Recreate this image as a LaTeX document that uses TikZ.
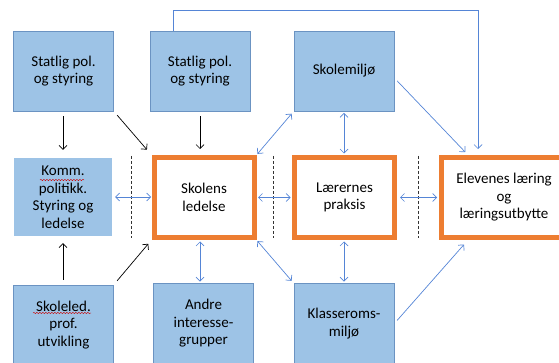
\documentclass[tikz,border=0pt]{standalone}
\usepackage{fontspec}
\setmainfont{Carlito}
\usetikzlibrary{arrows.meta,decorations.pathmorphing}

\definecolor{boxblue}{HTML}{9DC3E6}
\definecolor{edgeblue}{HTML}{6B93C2}
\definecolor{arrowblue}{HTML}{5585D6}
\definecolor{frameorange}{HTML}{ED7D31}

\tikzset{
  bluebox/.style={fill=boxblue, draw=edgeblue, line width=0.8pt, minimum width=100pt, minimum height=80pt, align=center, inner sep=0pt},
  plainbox/.style={fill=boxblue, minimum width=98pt, minimum height=78pt, align=center, inner sep=0pt},
  orangebox/.style={draw=frameorange, line width=5pt, fill=white, minimum width=100pt, minimum height=80pt, align=center, inner sep=0pt},
  tip/.style={Straight Barb[length=4pt,width=8pt]},
  blackarrow/.style={draw=black, line width=0.7pt, -{Straight Barb[length=4pt,width=8pt]}},
  bluearrow/.style={draw=arrowblue, line width=0.7pt, -{Straight Barb[length=4pt,width=8pt]}},
  twoway/.style={draw=arrowblue, line width=0.7pt, {Straight Barb[length=4pt,width=8pt]}-{Straight Barb[length=4pt,width=8pt]}, shorten <=1.5pt, shorten >=1.5pt},
  sepline/.style={draw=black!80, line width=0.6pt, dash pattern=on 3pt off 2pt},
  squiggle/.style={draw=red!80!black, line width=0.4pt, decorate, decoration={snake, segment length=3pt, amplitude=0.7pt}}
}

\begin{document}
\begin{tikzpicture}[x=1pt, y=-1pt, font=\fontsize{15}{17.5}\selectfont]

    \useasboundingbox (0,0) rectangle (559,363);
    \clip (0,0) rectangle (559,363);

    % top row
    \node[bluebox] (stat1) at (63.5,71) {Statlig pol.\\og styring};
    \node[bluebox] (stat2) at (200,71) {Statlig pol.\\og styring};
    \node[bluebox] (miljo) at (344,71) {Skolemiljø};

    % middle row
    \node[plainbox] (komm) at (63,197) {Komm.\\politikk.\\Styring og\\ledelse};
    \node[orangebox] (ledelse) at (204,197.5) {Skolens\\ledelse};
    \node[orangebox] (praksis) at (344.5,197.5) {Lærernes\\praksis};
    \node[orangebox, minimum width=125pt] (elev) at (504,197.5) {Elevenes læring\\og\\læringsutbytte};

    % bottom row
    \node[bluebox] (skoleled) at (63.5,325) {Skoleled.\\prof.\\utvikling};
    \node[bluebox] (andre) at (203.5,323.5) {Andre\\interesse-\\grupper};
    \node[bluebox] (klasse) at (344,323.5) {Klasseroms-\\miljø};

    % spell check marks
    \draw[squiggle] (40,180) -- (84,180);
    \draw[squiggle] (33,313) -- (91,313);

    % dashed separators
    \foreach \sx in {131,273,418}
        \draw[sepline] (\sx,156) -- (\sx,238);

    % black arrows
    \draw[blackarrow, shorten <=5pt, shorten >=8pt] (stat1.south -| komm) -- (komm.north);
    \draw[blackarrow, shorten <=5pt, shorten >=7pt] (stat1.south east) -- (ledelse.north west);
    \draw[blackarrow, shorten <=5pt, shorten >=6pt] (stat2.south) -- (stat2.south |- ledelse.north);
    \draw[blackarrow, shorten <=5pt, shorten >=7pt] (skoleled.north -| komm) -- (komm.south);
    \draw[blackarrow, shorten <=5pt, shorten >=5pt] (skoleled.north east) -- (ledelse.south west);

    % blue arrows, both ways
    \draw[twoway, shorten <=3pt, shorten >=0.5pt] (komm.east) -- (komm.east -| ledelse.west);
    \draw[twoway] (ledelse.east) -- (praksis.west);
    \draw[twoway, shorten <=3pt, shorten >=2pt] (praksis.east) -- (elev.west);
    \draw[twoway, shorten >=3pt] (ledelse.north east) -- (miljo.south west);
    \draw[twoway, shorten >=3pt] (ledelse.south east) -- (klasse.north west);
    \draw[twoway] (miljo.south) -- (praksis.north -| miljo);
    \draw[twoway] (klasse.north) -- (praksis.south -| klasse);
    \draw[twoway] (ledelse.south -| stat2) -- (andre.north -| stat2);

    % blue arrows to the pupils
    \coordinate (mfrom) at ([yshift=-7pt]miljo.east);
    \coordinate (kfrom) at (klasse.east);
    \coordinate (etop) at ([xshift=-36pt]elev.north);
    \coordinate (ebot) at ([xshift=-36pt]elev.south);
    \draw[bluearrow, shorten <=4pt, shorten >=4pt] (mfrom) -- (etop);
    \draw[bluearrow, shorten <=4pt, shorten >=6pt] (kfrom) -- (ebot);

    % line over the top
    \coordinate (s2top) at ([xshift=-27pt]stat2.north);
    \coordinate (eltop) at ([xshift=-26pt]elev.north);
    \coordinate (topline) at (0,10);
    \draw[bluearrow, shorten >=6pt] (s2top) -- (s2top |- topline) -| (eltop);

\end{tikzpicture}
\end{document}
